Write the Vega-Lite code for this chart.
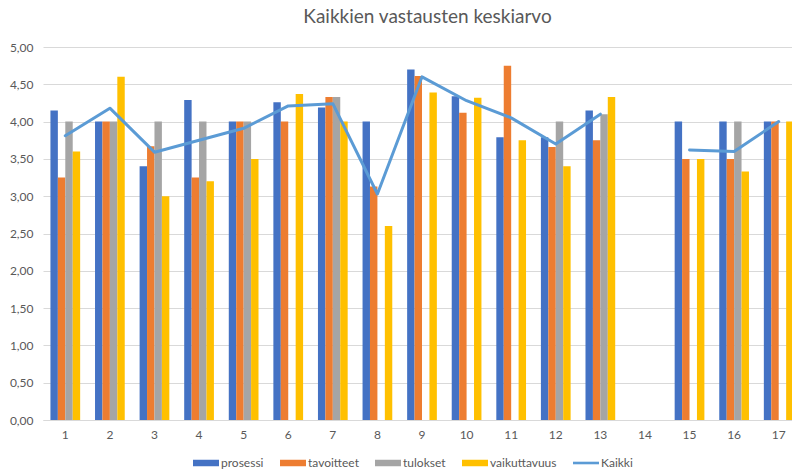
{
  "$schema": "https://vega.github.io/schema/vega-lite/v6.json",
  "width": 749,
  "height": 373,
  "autosize": {"type": "none"},
  "padding": {"left": 43, "top": 47, "right": 0, "bottom": 51},
  "title": {
    "text": "Kaikkien vastausten keskiarvo",
    "font": "Lato",
    "fontSize": 19,
    "fontWeight": "normal",
    "color": "#595959",
    "anchor": "middle",
    "dx": 10,
    "offset": 14
  },
  "config": {
    "font": "Lato",
    "view": {"stroke": null},
    "axis": {"labelFont": "Lato", "labelColor": "#595959", "labelFontSize": 12}
  },
  "datasets": {
    "bars": [
      {"ryhma": 1, "sarja": "prosessi", "arvo": 4.15},
      {"ryhma": 1, "sarja": "tavoitteet", "arvo": 3.25},
      {"ryhma": 1, "sarja": "tulokset", "arvo": 4.0},
      {"ryhma": 1, "sarja": "vaikuttavuus", "arvo": 3.6},
      {"ryhma": 2, "sarja": "prosessi", "arvo": 4.0},
      {"ryhma": 2, "sarja": "tavoitteet", "arvo": 4.0},
      {"ryhma": 2, "sarja": "tulokset", "arvo": 4.0},
      {"ryhma": 2, "sarja": "vaikuttavuus", "arvo": 4.6},
      {"ryhma": 3, "sarja": "prosessi", "arvo": 3.4},
      {"ryhma": 3, "sarja": "tavoitteet", "arvo": 3.67},
      {"ryhma": 3, "sarja": "tulokset", "arvo": 4.0},
      {"ryhma": 3, "sarja": "vaikuttavuus", "arvo": 3.0},
      {"ryhma": 4, "sarja": "prosessi", "arvo": 4.29},
      {"ryhma": 4, "sarja": "tavoitteet", "arvo": 3.25},
      {"ryhma": 4, "sarja": "tulokset", "arvo": 4.0},
      {"ryhma": 4, "sarja": "vaikuttavuus", "arvo": 3.2},
      {"ryhma": 5, "sarja": "prosessi", "arvo": 4.0},
      {"ryhma": 5, "sarja": "tavoitteet", "arvo": 4.0},
      {"ryhma": 5, "sarja": "tulokset", "arvo": 4.0},
      {"ryhma": 5, "sarja": "vaikuttavuus", "arvo": 3.5},
      {"ryhma": 6, "sarja": "prosessi", "arvo": 4.26},
      {"ryhma": 6, "sarja": "tavoitteet", "arvo": 4.0},
      {"ryhma": 6, "sarja": "vaikuttavuus", "arvo": 4.37},
      {"ryhma": 7, "sarja": "prosessi", "arvo": 4.19},
      {"ryhma": 7, "sarja": "tavoitteet", "arvo": 4.33},
      {"ryhma": 7, "sarja": "tulokset", "arvo": 4.33},
      {"ryhma": 7, "sarja": "vaikuttavuus", "arvo": 4.0},
      {"ryhma": 8, "sarja": "prosessi", "arvo": 4.0},
      {"ryhma": 8, "sarja": "tavoitteet", "arvo": 3.13},
      {"ryhma": 8, "sarja": "vaikuttavuus", "arvo": 2.6},
      {"ryhma": 9, "sarja": "prosessi", "arvo": 4.7},
      {"ryhma": 9, "sarja": "tavoitteet", "arvo": 4.61},
      {"ryhma": 9, "sarja": "vaikuttavuus", "arvo": 4.39},
      {"ryhma": 10, "sarja": "prosessi", "arvo": 4.34},
      {"ryhma": 10, "sarja": "tavoitteet", "arvo": 4.12},
      {"ryhma": 10, "sarja": "vaikuttavuus", "arvo": 4.32},
      {"ryhma": 11, "sarja": "prosessi", "arvo": 3.79},
      {"ryhma": 11, "sarja": "tavoitteet", "arvo": 4.75},
      {"ryhma": 11, "sarja": "vaikuttavuus", "arvo": 3.75},
      {"ryhma": 12, "sarja": "prosessi", "arvo": 3.79},
      {"ryhma": 12, "sarja": "tavoitteet", "arvo": 3.66},
      {"ryhma": 12, "sarja": "tulokset", "arvo": 4.0},
      {"ryhma": 12, "sarja": "vaikuttavuus", "arvo": 3.4},
      {"ryhma": 13, "sarja": "prosessi", "arvo": 4.15},
      {"ryhma": 13, "sarja": "tavoitteet", "arvo": 3.75},
      {"ryhma": 13, "sarja": "tulokset", "arvo": 4.1},
      {"ryhma": 13, "sarja": "vaikuttavuus", "arvo": 4.33},
      {"ryhma": 15, "sarja": "prosessi", "arvo": 4.0},
      {"ryhma": 15, "sarja": "tavoitteet", "arvo": 3.5},
      {"ryhma": 15, "sarja": "vaikuttavuus", "arvo": 3.5},
      {"ryhma": 16, "sarja": "prosessi", "arvo": 4.0},
      {"ryhma": 16, "sarja": "tavoitteet", "arvo": 3.5},
      {"ryhma": 16, "sarja": "tulokset", "arvo": 4.0},
      {"ryhma": 16, "sarja": "vaikuttavuus", "arvo": 3.33},
      {"ryhma": 17, "sarja": "prosessi", "arvo": 4.0},
      {"ryhma": 17, "sarja": "tavoitteet", "arvo": 4.0},
      {"ryhma": 17, "sarja": "vaikuttavuus", "arvo": 4.0}
    ],
    "kaikki": [
      {"ryhma": 1, "sarja": "Kaikki", "arvo": 3.81},
      {"ryhma": 2, "sarja": "Kaikki", "arvo": 4.18},
      {"ryhma": 3, "sarja": "Kaikki", "arvo": 3.59},
      {"ryhma": 4, "sarja": "Kaikki", "arvo": 3.75},
      {"ryhma": 5, "sarja": "Kaikki", "arvo": 3.91},
      {"ryhma": 6, "sarja": "Kaikki", "arvo": 4.21},
      {"ryhma": 7, "sarja": "Kaikki", "arvo": 4.24},
      {"ryhma": 8, "sarja": "Kaikki", "arvo": 3.03},
      {"ryhma": 9, "sarja": "Kaikki", "arvo": 4.6},
      {"ryhma": 10, "sarja": "Kaikki", "arvo": 4.28},
      {"ryhma": 11, "sarja": "Kaikki", "arvo": 4.05},
      {"ryhma": 12, "sarja": "Kaikki", "arvo": 3.7},
      {"ryhma": 13, "sarja": "Kaikki", "arvo": 4.1},
      {"ryhma": 14, "sarja": "Kaikki", "arvo": null},
      {"ryhma": 15, "sarja": "Kaikki", "arvo": 3.62},
      {"ryhma": 16, "sarja": "Kaikki", "arvo": 3.6},
      {"ryhma": 17, "sarja": "Kaikki", "arvo": 4.0}
    ]
  },
  "encoding": {
    "x": {
      "field": "ryhma",
      "type": "ordinal",
      "scale": {
        "domain": [1, 2, 3, 4, 5, 6, 7, 8, 9, 10, 11, 12, 13, 14, 15, 16, 17],
        "range": [0, 758],
        "paddingInner": 0,
        "paddingOuter": 0
      },
      "axis": {
        "title": null,
        "labelAngle": 0,
        "ticks": false,
        "domainColor": "#D9D9D9",
        "domainWidth": 1,
        "labelPadding": 9,
        "grid": false
      }
    },
    "y": {
      "field": "arvo",
      "type": "quantitative",
      "scale": {"domain": [0, 5], "nice": false},
      "axis": {
        "title": null,
        "values": [0, 0.5, 1, 1.5, 2, 2.5, 3, 3.5, 4, 4.5, 5],
        "labelExpr": "replace(format(datum.value, '.2f'), '.', ',')",
        "ticks": false,
        "domain": false,
        "gridColor": "#D9D9D9",
        "gridWidth": 1,
        "labelPadding": 10
      }
    },
    "color": {
      "field": "sarja",
      "type": "nominal",
      "scale": {
        "domain": ["prosessi", "tavoitteet", "tulokset", "vaikuttavuus", "Kaikki"],
        "range": ["#4472C4", "#ED7D31", "#A5A5A5", "#FFC000", "#5B9BD5"]
      },
      "legend": {
        "title": null,
        "orient": "none",
        "legendX": 150,
        "legendY": 403,
        "direction": "horizontal",
        "columns": 5,
        "padding": 0,
        "columnPadding": 16,
        "symbolSize": 676,
        "labelOffset": 2,
        "labelFont": "Lato",
        "labelFontSize": 12,
        "labelColor": "#595959",
        "encode": {
          "symbols": {
            "update": {
              "shape": {"signal": "datum.value === 'Kaikki' ? 'M-1,-0.1H1V0.1H-1Z' : 'M-1,-0.25H1V0.25H-1Z'"},
              "fill": {"scale": "color", "field": "value"},
              "stroke": {"value": "transparent"},
              "strokeWidth": {"value": 0},
              "opacity": {"value": 1},
              "fillOpacity": {"value": 1}
            }
          }
        }
      }
    }
  },
  "layer": [
    {
      "data": {"name": "bars"},
      "mark": {"type": "bar"},
      "encoding": {
        "xOffset": {
          "field": "sarja",
          "type": "nominal",
          "scale": {
            "domain": ["prosessi", "tavoitteet", "tulokset", "vaikuttavuus"],
            "paddingInner": 0,
            "paddingOuter": 1.185
          }
        }
      }
    },
    {
      "data": {"name": "kaikki"},
      "mark": {
        "type": "line",
        "strokeWidth": 3,
        "strokeJoin": "round",
        "strokeCap": "round",
        "invalid": "break-paths-filter-domains"
      },
      "encoding": {}
    }
  ]
}
